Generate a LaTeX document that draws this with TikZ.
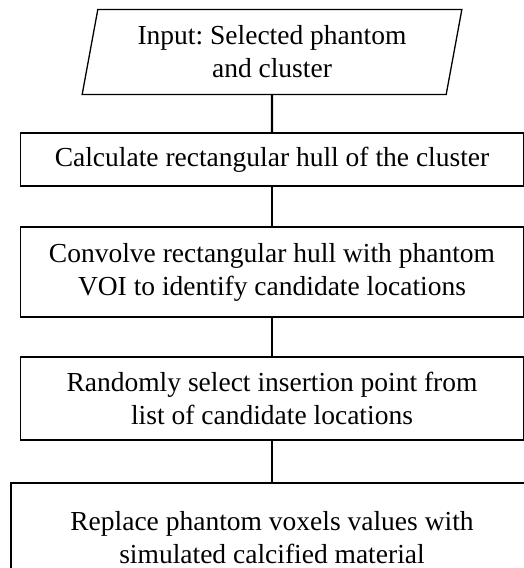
\documentclass[tikz,border=0pt]{standalone}
\usepackage{fontspec}
\setmainfont{Liberation Serif}
\frenchspacing
\usetikzlibrary{shapes.geometric}
\usetikzlibrary{positioning}
\tikzset{ %Styles du schema
    process/.style={draw,line width=0.65pt,minimum width=251.5pt,inner sep=0pt,
        align=center,font=\fontsize{13.75}{16.5}\selectfont},
    io/.style={draw,line width=0.65pt,trapezium,trapezium left angle=77,
        trapezium right angle=103,trapezium stretches=true,
        minimum width=190pt,minimum height=42.5pt,inner sep=0pt,
        align=center,font=\fontsize{13.75}{16.5}\selectfont},
    link/.style={line width=1.2pt}
}
\begin{document}
\begin{tikzpicture}[x=0.5pt,y=-0.5pt]
            \useasboundingbox (0,0) rectangle (524,568);
            \clip (0,0) rectangle (524,568);
            \node[io] (input) at (272,52) {Input: Selected phantom\\and cluster};
            \node[process,minimum height=26.5pt] (hull) at (272,159.5) {Calculate rectangular hull of the cluster};
            \node[process,minimum height=45pt] (convolve) at (272,272) {Convolve rectangular hull with phantom\\VOI to identify candidate locations};
            \node[process,minimum height=41.5pt] (select) at (272,398.5) {Randomly select insertion point from\\list of candidate locations};
            \node[process,minimum width=261pt,minimum height=55pt] (replace) at (272,538) {Replace phantom voxels values with\\simulated calcified material};
            \draw[link] (input) -- (hull);
            \draw[link] (hull) -- (convolve);
            \draw[link] (convolve) -- (select);
            \draw[link] (select) -- (replace);
        \end{tikzpicture}
\end{document}
